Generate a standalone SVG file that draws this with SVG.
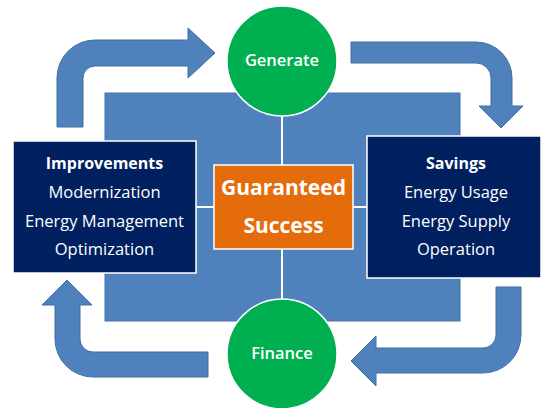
<svg xmlns="http://www.w3.org/2000/svg" width="543" height="408" viewBox="0 0 543 408">
<style>
.arrow{fill:#4F81BD;stroke:#3F6FA6;stroke-width:1}
.dark{fill:#002060;stroke:#ffffff;stroke-width:1.5}
.circ{fill:#00B050;stroke:#ffffff;stroke-width:1.5}
.t{font-family:"Open Sans","Liberation Sans",sans-serif;fill:#ffffff;text-anchor:middle}
.lst{font-size:16.5px}
.hd{font-size:16px;font-weight:bold}
.ct{font-size:16.5px;font-weight:600}
.big{font-size:21px;font-weight:bold}
.wl{stroke:#ffffff;stroke-width:2;fill:none}
</style>
<rect width="543" height="408" fill="#ffffff"/>
<g id="connectors">
<path class="arrow" d="M57,127 L57,78 A38,38 0 0 1 95,40 L188,40 L188,28 L215,53 L188,78 L188,66 L95,66 A12,12 0 0 0 83,78 L83,127 Z"/>
<path class="arrow" d="M351,42 L476,42 A36,36 0 0 1 512,78 L512,106 L523,106 L501,128 L479,106 L491,106 L491,78 A15,15 0 0 0 476,63 L351,63 Z"/>
<path class="arrow" d="M496,287 L521,287 L521,335 A38,38 0 0 1 483,373 L376,373 L376,386 L351,361 L376,336 L376,348 L483,348 A13,13 0 0 0 496,335 Z"/>
<path class="arrow" d="M208,352 L208,377 L93,377 A38,38 0 0 1 55,339 L55,305 L42,305 L67,280 L92,305 L80,305 L80,339 A13,13 0 0 0 93,352 Z"/>
</g>
<g id="background">
<rect x="105" y="93" width="355" height="228" fill="#4F81BD" stroke="#4775AD" stroke-width="1"/>
<line class="wl" x1="282" y1="93" x2="282" y2="321"/>
<line class="wl" x1="196" y1="207" x2="367" y2="207"/>
</g>
<g id="improvements">
<rect class="dark" x="13" y="141" width="183" height="132"/>
<text class="t hd" x="104.5" y="169">Improvements</text>
<text class="t lst" x="104.5" y="198">Modernization</text>
<text class="t lst" x="104.5" y="227">Energy Management</text>
<text class="t lst" x="104.5" y="255">Optimization</text>
</g>
<g id="savings">
<rect class="dark" x="367" y="136" width="174" height="142"/>
<text class="t hd" x="456" y="169">Savings</text>
<text class="t lst" x="456" y="198">Energy Usage</text>
<text class="t lst" x="456" y="227">Energy Supply</text>
<text class="t lst" x="456" y="255">Operation</text>
</g>
<g id="success">
<rect x="214" y="165" width="139" height="84" fill="#E46C0A" stroke="#ffffff" stroke-width="1.5"/>
<text class="t big" x="283.5" y="195">Guaranteed</text>
<text class="t big" x="283.5" y="233">Success</text>
</g>
<g id="generate">
<circle class="circ" cx="282" cy="61" r="55"/>
<text class="t ct" x="282" y="66">Generate</text>
</g>
<g id="finance">
<circle class="circ" cx="282" cy="354" r="55"/>
<text class="t ct" x="282" y="359">Finance</text>
</g>
</svg>
